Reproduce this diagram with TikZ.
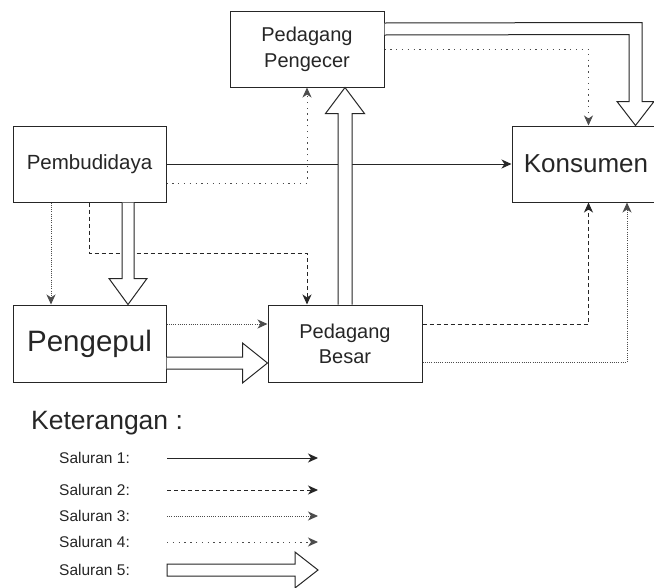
\documentclass[tikz,border=0pt]{standalone}
\usepackage{fontspec}
\setmainfont{Liberation Sans}
\usetikzlibrary{arrows.meta,calc}

\tikzset{
  box/.style={draw=black!85, line width=1pt, fill=white, rectangle, align=center, text=black!85, inner sep=0pt},
  tip/.style={-{Stealth[length=10pt,width=9pt,inset=3pt]}},
  s1/.style={tip, line width=1pt, draw=black!85},
  s2/.style={tip, line width=1pt, draw=black!85, dash pattern=on 4pt off 3pt},
  s3/.style={tip, line width=0.9pt, draw=black!70, dash pattern=on 1pt off 1.2pt},
  s4/.style={tip, line width=0.9pt, draw=black!70, dash pattern=on 1.3pt off 4.5pt},
  s5/.style={line width=1pt, draw=black!85, fill=white, line join=miter},
  legtext/.style={anchor=west, inner sep=0pt, text=black!85, font=\fontsize{15.5}{18}\selectfont},
}

\begin{document}
\begin{tikzpicture}[x=1pt, y=-1pt]
\clip (0,0) rectangle (654,587);
\fill[white] (0,0) rectangle (654,587);

% actors of the distribution chain
\node[box, minimum width=154pt, minimum height=76pt, font=\fontsize{20}{26}\selectfont] (pengecer) at (307,49) {Pedagang\\Pengecer};
\node[box, minimum width=153pt, minimum height=76pt, font=\fontsize{20.5}{24}\selectfont] (pemb) at (89.5,164) {Pembudidaya};
\node[box, minimum width=153pt, minimum height=76pt, font=\fontsize{26}{30}\selectfont] (kons) at (588.5,164) {\hspace*{-5pt}Konsumen};
\node[box, minimum width=153pt, minimum height=77pt, font=\fontsize{29.5}{34}\selectfont] (pengepul) at (89.5,343.5) {Pengepul};
\node[box, minimum width=154pt, minimum height=77pt, font=\fontsize{20}{25}\selectfont] (besar) at (345,343.5) {Pedagang\\Besar};

% Saluran 1
\draw[s1] (pemb.east) -- (kons.west);

% Saluran 2
\draw[s2] (pemb.south) -- ++(0,51) -| ($(besar.north)+(-38,0)$);
\draw[s2] ($(besar.east)+(0,-19.5)$) -| (kons.south);

% Saluran 3
\draw[s3] ($(pemb.south)+(-38.5,0)$) -- ($(pengepul.north)+(-38.5,0)$);
\draw[s3] ($(pengepul.east)+(0,-19.5)$) -- ($(besar.west)+(0,-19.5)$);
\draw[s3] ($(besar.east)+(0,19)$) -| ($(kons.south)+(38.5,0)$);

% Saluran 4
\draw[s4] ($(pemb.east)+(0,19)$) -| (pengecer.south);
\draw[s4] (pengecer.east) -| (kons.south |- kons.north);

% Saluran 5: hollow block arrows
\draw[s5] ($(pemb.south)+(32.5,0)$) -- ($(pengepul.north)+(32.5,-26)$) -- ($(pengepul.north)+(19.5,-26)$)
  -- ($(pengepul.north)+(38.5,0)$) -- ($(pengepul.north)+(57.5,-26)$) -- ($(pengepul.north)+(44.5,-26)$)
  -- ($(pemb.south)+(44.5,0)$);
\draw[s5] ($(pengepul.east)+(0,13.5)$) -- ($(besar.west)+(-25,13.5)$) -- ($(besar.west)+(-25,-0.5)$)
  -- ($(besar.west)+(0,19.5)$) -- ($(besar.west)+(-25,39.5)$) -- ($(besar.west)+(-25,25.5)$)
  -- ($(pengepul.east)+(0,25.5)$);
\draw[s5] ($(besar.north)+(-7,0)$) -- ($(pengecer.south)+(31,26)$) -- ($(pengecer.south)+(18.5,26)$)
  -- ($(pengecer.south)+(38,0)$) -- ($(pengecer.south)+(57.5,26)$) -- ($(pengecer.south)+(45,26)$)
  -- ($(besar.north)+(7,0)$);
\draw[s5] ($(pengecer.east)+(0,-26)$) -- ($(kons.north)+(53.5,-103)$) -- ($(kons.north)+(53.5,-24)$)
  -- ($(kons.north)+(65.5,-24)$) -- ($(kons.north)+(47,0)$) -- ($(kons.north)+(28.5,-24)$)
  -- ($(kons.north)+(40.5,-24)$) -- ($(kons.north)+(40.5,-91)$) -- ($(pengecer.east)+(0,-14)$);

% legend
\node[anchor=west, inner sep=0pt, text=black!85, font=\fontsize{26.5}{30}\selectfont] (ket) at (31,423) {Keterangan :};
\node[legtext] (l1) at (59,458) {Saluran 1:};
\node[legtext] (l2) at (59,490) {Saluran 2:};
\node[legtext] (l3) at (59,516) {Saluran 3:};
\node[legtext] (l4) at (59,542) {Saluran 4:};
\node[legtext] (l5) at (59,570) {Saluran 5:};
\coordinate (a1) at (167,458); \coordinate (b1) at (318,458);
\coordinate (a2) at (167,490); \coordinate (b2) at (318,490);
\coordinate (a3) at (167,516); \coordinate (b3) at (318,516);
\coordinate (a4) at (167,542); \coordinate (b4) at (318,542);
\coordinate (a5) at (167,570); \coordinate (b5) at (318,570);
\draw[s1] (a1) -- (b1);
\draw[s2] (a2) -- (b2);
\draw[s3] (a3) -- (b3);
\draw[s4] (a4) -- (b4);
\draw[s5] ($(a5)+(0,-6)$) -- ($(b5)+(-23,-6)$) -- ($(b5)+(-23,-18)$) -- (b5)
  -- ($(b5)+(-23,18)$) -- ($(b5)+(-23,6)$) -- ($(a5)+(0,6)$) -- cycle;
\end{tikzpicture}
\end{document}
